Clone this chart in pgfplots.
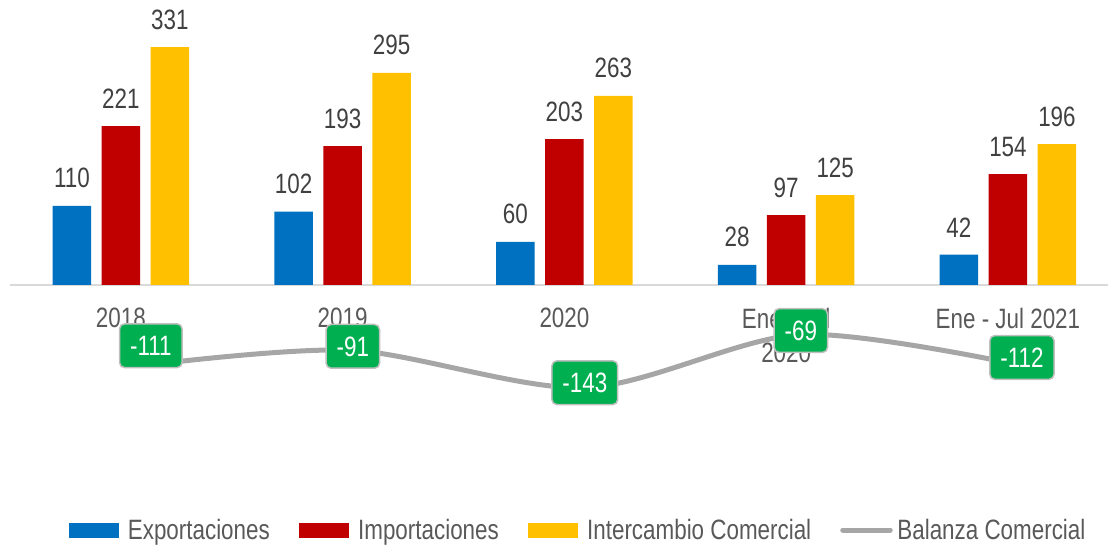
\documentclass[border=0pt]{standalone}
\usepackage{fontspec}
\setmainfont{Liberation Sans}[FakeStretch=0.80]
\usepackage{pgfplots}
\pgfplotsset{compat=1.18}
\pgfplotsset{layers/mylayers/.define layer set={axis background,axis grid,axis ticks,axis lines,main,axis tick labels,axis descriptions,axis foreground}{}}
\definecolor{cBlue}{HTML}{0070C0}
\definecolor{cRed}{HTML}{C00000}
\definecolor{cYel}{HTML}{FFC000}
\definecolor{cGray}{HTML}{A6A6A6}
\definecolor{cGreen}{HTML}{00B050}
\definecolor{cLab}{HTML}{404040}
\definecolor{cTick}{HTML}{595959}
\definecolor{cAxis}{HTML}{D9D9D9}
\definecolor{cBorder}{HTML}{BFBFBF}
\begin{document}
\begin{tikzpicture}
\begin{axis}[
  set layers=mylayers,
  at={(10bp,69bp)}, anchor=south west,
  scale only axis, width=1097.7bp, height=460bp,
  xmin=-0.5, xmax=4.45, ymin=-270, ymax=370,
  clip=false,
  axis y line=none, ytick=\empty,
  axis x line*=middle,
  hide obscured x ticks=false,
  x axis line style={draw=cAxis, line width=1.5bp},
  xtick={0,1,2,3,4},
  xticklabels={2018,2019,2020,{Ene - Jul\\2020},Ene - Jul 2021},
  xtick style={draw=none},
  xticklabel style={align=center, anchor=north, inner sep=0pt, yshift=-23bp, text=cTick, font=\fontsize{28bp}{34bp}\selectfont},
  /pgf/number format/assume math mode=true,
  barlab/.style={nodes near coords, nodes near coords style={font=\fontsize{28bp}{32bp}\selectfont, text=cLab, inner sep=0pt, anchor=south, yshift=17.5bp}},
  legend columns=4,
  legend style={at={(0.5165,-0.111)}, anchor=center, draw=none, fill=none, font=\fontsize{28bp}{32bp}\selectfont, text=cTick, /tikz/every even column/.append style={column sep=29bp}, nodes={inner sep=0pt}},
]
\addplot[ybar, bar width=38.5bp, bar shift=0pt, fill=cBlue, draw=none, barlab,
  legend image code/.code={\fill[cBlue] (0bp,-7.5bp) rectangle (50bp,7.5bp);}]
  coordinates {(-0.221,110) (0.779,102) (1.779,60) (2.779,28) (3.779,42)};
\addlegendentry{\,\,Exportaciones}
\addplot[ybar, bar width=38.5bp, bar shift=0pt, fill=cRed, draw=none, barlab,
  legend image code/.code={\fill[cRed] (0bp,-7.5bp) rectangle (50bp,7.5bp);}]
  coordinates {(0,221) (1,193) (2,203) (3,97) (4,154)};
\addlegendentry{\,\,Importaciones}
\addplot[ybar, bar width=38.5bp, bar shift=0pt, fill=cYel, draw=none, barlab,
  legend image code/.code={\fill[cYel] (0bp,-7.5bp) rectangle (50bp,7.5bp);}]
  coordinates {(0.221,331) (1.221,295) (2.221,263) (3.221,125) (4.221,196)};
\addlegendentry{\,\,Intercambio Comercial}
\addplot[smooth, line width=5bp, cGray, mark=none,
  legend image code/.code={\draw[cGray, line width=5bp, line cap=round] (2.5bp,0bp) -- (50bp,0bp);}]
  coordinates {(0.135,-111) (1.046,-91) (2.092,-143) (3.066,-69) (4.063,-112)};
\addlegendentry{\,Balanza Comercial}
\addplot[draw=none, mark=none, forget plot, nodes near coords, point meta=explicit symbolic,
  visualization depends on={\thisrow{dy}\as\dy},
  nodes near coords style={anchor=center, yshift=\dy bp, fill=cGreen, draw=cBorder, line width=1.5bp, rounded corners=5bp, text=white, inner xsep=10.5bp, inner ysep=12bp, text height=19.8bp, text depth=0bp, font=\fontsize{28bp}{32bp}\selectfont}]
  table[x=x, y=y, meta=lab] {
x y lab dy
0.135 -111 -111 19
1.046 -91 -91 4
2.092 -143 -143 5
3.066 -69 -69 4
4.063 -112 -112 8
};
\end{axis}
\pgfresetboundingbox
\path (0,0) rectangle (1110bp,548bp);
\end{tikzpicture}
\end{document}
